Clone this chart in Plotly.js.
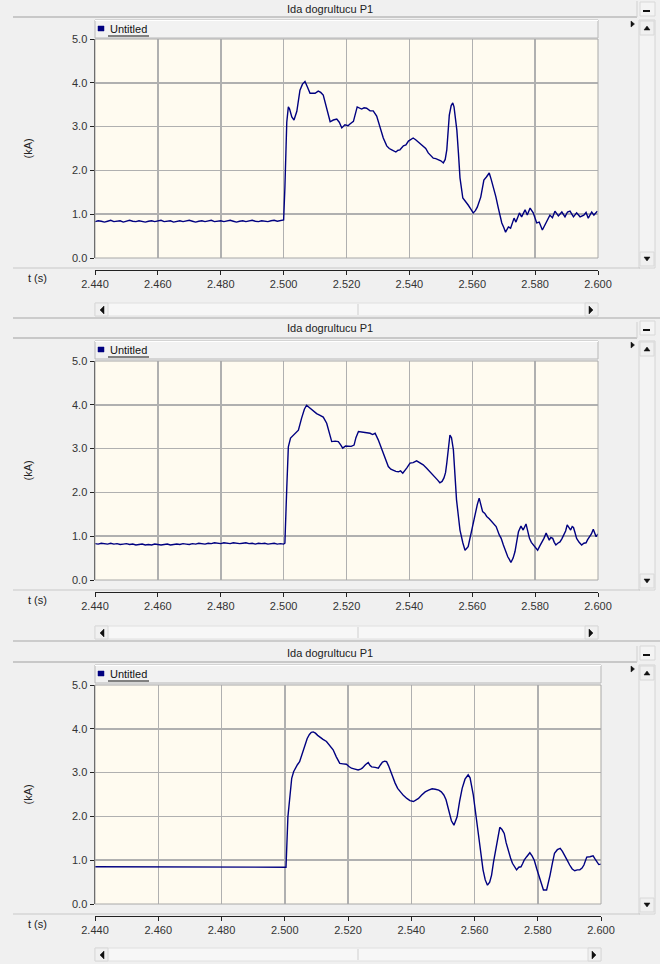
<!DOCTYPE html>
<html><head><meta charset="utf-8">
<script src="https://cdn.plot.ly/plotly-3.0.1.min.js"></script>
<style>html,body{margin:0;padding:0;background:#f0f0f0;}#chart{width:660px;height:964px;}</style>
</head><body><div id="chart"></div>
<script>
// ---------------- DATA ----------------
const panelTitle = "Ida dogrultucu P1";
const seriesName = "Untitled";
const yAxisLabel = "(kA)";
const xAxisLabel = "t (s)";
const xTicks = [2.44, 2.46, 2.48, 2.50, 2.52, 2.54, 2.56, 2.58, 2.60];
const yTicks = [0, 1, 2, 3, 4, 5];

const tPre = [2.440,2.441,2.442,2.443,2.444,2.445,2.446,2.447,2.448,2.449,2.450,2.451,2.452,2.453,2.454,2.455,2.456,2.457,2.458,2.459,2.460,2.461,2.462,2.463,2.464,2.465,2.466,2.467,2.468,2.469,2.470,2.471,2.472,2.473,2.474,2.475,2.476,2.477,2.478,2.479,2.480,2.481,2.482,2.483,2.484,2.485,2.486,2.487,2.488,2.489,2.490,2.491,2.492,2.493,2.494,2.495,2.496,2.497,2.498,2.499,2.500];

const v1Pre = [0.83,0.85,0.84,0.82,0.84,0.86,0.83,0.84,0.85,0.82,0.84,0.86,0.84,0.83,0.85,0.83,0.82,0.84,0.85,0.83,0.84,0.86,0.83,0.84,0.85,0.82,0.84,0.85,0.83,0.84,0.86,0.84,0.82,0.84,0.85,0.83,0.84,0.86,0.83,0.84,0.85,0.83,0.84,0.86,0.84,0.82,0.84,0.85,0.83,0.84,0.86,0.84,0.83,0.85,0.84,0.83,0.85,0.86,0.84,0.86,0.87];
const t1Post = [2.5004,2.5010,2.5015,2.5019,2.5026,2.5033,2.5042,2.5052,2.5060,2.5068,2.5076,2.5084,2.5092,2.5100,2.5110,2.5118,2.5126,2.5137,2.5148,2.5158,2.5169,2.5177,2.5185,2.5195,2.5205,2.5211,2.5222,2.5234,2.5248,2.5256,2.5264,2.5275,2.5285,2.5296,2.5307,2.5317,2.5328,2.5336,2.5344,2.5350,2.5357,2.5364,2.5370,2.5381,2.5389,2.5397,2.5405,2.5412,2.5420,2.5428,2.5436,2.5444,2.5452,2.5460,2.5468,2.5476,2.5484,2.5492,2.5500,2.5508,2.5514,2.5519,2.5527,2.5533,2.5538,2.5542,2.5546,2.5551,2.5556,2.5561,2.5570,2.5578,2.5587,2.5595,2.5603,2.5610,2.5616,2.5627,2.5637,2.5645,2.5654,2.5660,2.5667,2.5675,2.5683,2.5694,2.5700,2.5706,2.5715,2.5722,2.5733,2.5739,2.5750,2.5757,2.5768,2.5775,2.5784,2.5794,2.5805,2.5813,2.5823,2.5835,2.5847,2.5855,2.5863,2.5874,2.5885,2.5895,2.5903,2.5911,2.5922,2.5932,2.5943,2.5955,2.5962,2.5969,2.5980,2.5987,2.5998];
const v1Post = [1.60,3.10,3.45,3.40,3.22,3.15,3.35,3.83,3.97,4.03,3.90,3.76,3.76,3.76,3.81,3.78,3.72,3.40,3.11,3.15,3.17,3.10,2.97,3.04,3.02,3.06,3.12,3.45,3.40,3.43,3.42,3.36,3.36,3.24,3.00,2.74,2.56,2.50,2.47,2.44,2.42,2.46,2.47,2.56,2.58,2.67,2.70,2.74,2.70,2.65,2.62,2.56,2.50,2.40,2.33,2.28,2.27,2.24,2.22,2.17,2.25,2.47,3.26,3.48,3.54,3.45,3.26,2.92,2.40,1.83,1.37,1.28,1.21,1.12,1.03,1.08,1.16,1.39,1.78,1.85,1.94,1.80,1.62,1.40,1.14,0.80,0.70,0.59,0.71,0.68,0.91,0.82,1.03,0.94,1.10,0.98,1.14,1.03,0.80,0.82,0.64,0.82,0.98,0.92,1.07,0.96,1.05,0.94,1.05,1.07,0.94,1.03,0.94,0.98,1.04,0.91,1.05,0.98,1.07];

const v2Pre = [0.83,0.82,0.84,0.83,0.82,0.84,0.82,0.83,0.81,0.82,0.83,0.81,0.82,0.80,0.81,0.82,0.80,0.81,0.80,0.82,0.81,0.80,0.81,0.82,0.80,0.81,0.82,0.81,0.83,0.82,0.81,0.83,0.82,0.84,0.83,0.82,0.84,0.83,0.85,0.84,0.83,0.85,0.84,0.83,0.85,0.84,0.83,0.84,0.85,0.83,0.84,0.82,0.84,0.83,0.84,0.82,0.83,0.84,0.82,0.83,0.82];
const t2Post = [2.5004,2.5010,2.5015,2.5022,2.5030,2.5036,2.5047,2.5057,2.5066,2.5073,2.5084,2.5095,2.5105,2.5116,2.5126,2.5137,2.5145,2.5153,2.5164,2.5174,2.5182,2.5188,2.5197,2.5206,2.5215,2.5224,2.5230,2.5238,2.5246,2.5254,2.5264,2.5275,2.5283,2.5291,2.5301,2.5310,2.5317,2.5325,2.5333,2.5341,2.5349,2.5357,2.5365,2.5372,2.5379,2.5386,2.5392,2.5402,2.5412,2.5423,2.5433,2.5444,2.5455,2.5466,2.5474,2.5482,2.5490,2.5497,2.5504,2.5510,2.5515,2.5519,2.5524,2.5529,2.5534,2.5540,2.5545,2.5550,2.5556,2.5561,2.5570,2.5577,2.5587,2.5598,2.5609,2.5616,2.5622,2.5628,2.5633,2.5640,2.5646,2.5654,2.5662,2.5669,2.5676,2.5686,2.5692,2.5699,2.5706,2.5713,2.5718,2.5723,2.5730,2.5736,2.5742,2.5747,2.5755,2.5762,2.5771,2.5776,2.5782,2.5788,2.5794,2.5801,2.5808,2.5815,2.5821,2.5828,2.5835,2.5840,2.5845,2.5850,2.5856,2.5861,2.5866,2.5872,2.5879,2.5885,2.5892,2.5897,2.5902,2.5908,2.5913,2.5918,2.5922,2.5927,2.5932,2.5940,2.5948,2.5955,2.5962,2.5967,2.5972,2.5979,2.5985,2.5990,2.5994,2.6000];
const v2Post = [0.84,2.10,3.04,3.24,3.30,3.35,3.42,3.69,3.90,3.99,3.92,3.85,3.80,3.76,3.72,3.58,3.38,3.16,3.17,3.16,3.08,3.01,3.06,3.06,3.05,3.08,3.25,3.39,3.38,3.38,3.36,3.35,3.32,3.35,3.20,3.04,2.90,2.75,2.59,2.53,2.50,2.48,2.47,2.49,2.44,2.52,2.56,2.67,2.68,2.72,2.68,2.63,2.55,2.47,2.42,2.36,2.28,2.22,2.25,2.33,2.45,2.67,3.00,3.31,3.25,2.97,2.40,1.83,1.45,1.14,0.85,0.68,0.76,1.14,1.56,1.72,1.87,1.70,1.56,1.52,1.45,1.40,1.33,1.28,1.22,1.03,0.95,0.80,0.65,0.53,0.47,0.40,0.50,0.65,0.90,1.10,1.23,1.14,1.28,1.12,0.95,0.86,0.80,0.74,0.68,0.78,0.85,0.95,1.07,1.00,0.91,0.97,0.95,0.86,0.80,0.84,0.87,0.94,1.03,1.12,1.26,1.20,1.14,1.22,1.20,1.08,0.95,0.86,0.80,0.84,0.85,0.92,0.97,1.05,1.16,1.08,0.99,1.05];

const v3Pre = [0.85,0.85,0.85,0.84,0.84,0.84,0.84,0.84,0.84,0.84,0.84,0.84,0.84,0.84,0.84,0.84,0.84,0.84,0.84,0.84,0.84,0.84,0.84,0.84,0.84,0.84,0.84,0.84,0.84,0.84,0.84,0.84,0.84,0.84,0.84,0.84,0.84,0.84,0.84,0.84,0.84,0.84,0.84,0.84,0.84,0.84,0.84,0.84,0.84,0.84,0.84,0.84,0.84,0.84,0.84,0.84,0.84,0.84,0.84,0.84,0.84];
const t3Post = [2.5004,2.5010,2.5015,2.5022,2.5028,2.5033,2.5040,2.5047,2.5057,2.5064,2.5071,2.5078,2.5084,2.5090,2.5097,2.5104,2.5110,2.5121,2.5132,2.5142,2.5153,2.5163,2.5174,2.5184,2.5195,2.5203,2.5211,2.5222,2.5232,2.5240,2.5245,2.5255,2.5264,2.5270,2.5275,2.5286,2.5296,2.5303,2.5309,2.5316,2.5322,2.5328,2.5333,2.5341,2.5349,2.5357,2.5365,2.5375,2.5386,2.5396,2.5407,2.5415,2.5423,2.5433,2.5444,2.5455,2.5466,2.5476,2.5487,2.5495,2.5503,2.5510,2.5519,2.5527,2.5535,2.5545,2.5553,2.5561,2.5570,2.5580,2.5586,2.5591,2.5596,2.5601,2.5607,2.5614,2.5620,2.5627,2.5634,2.5641,2.5648,2.5654,2.5660,2.5667,2.5674,2.5680,2.5687,2.5694,2.5700,2.5707,2.5714,2.5720,2.5727,2.5733,2.5740,2.5747,2.5752,2.5757,2.5765,2.5775,2.5782,2.5789,2.5797,2.5805,2.5812,2.5818,2.5828,2.5834,2.5839,2.5846,2.5853,2.5862,2.5871,2.5878,2.5885,2.5893,2.5901,2.5909,2.5917,2.5925,2.5933,2.5940,2.5946,2.5955,2.5965,2.5975,2.5981,2.5987,2.5993,2.6000];
const v3Post = [0.84,1.99,2.37,2.87,3.02,3.10,3.18,3.25,3.48,3.65,3.78,3.87,3.92,3.93,3.90,3.85,3.81,3.76,3.71,3.62,3.52,3.36,3.21,3.20,3.19,3.14,3.10,3.08,3.06,3.08,3.10,3.18,3.23,3.16,3.13,3.12,3.10,3.18,3.24,3.26,3.25,3.16,3.06,2.90,2.76,2.64,2.56,2.48,2.41,2.36,2.34,2.37,2.41,2.49,2.56,2.60,2.63,2.62,2.60,2.56,2.49,2.38,2.11,1.90,1.80,1.99,2.35,2.64,2.85,2.95,2.88,2.72,2.50,2.22,1.90,1.54,1.15,0.78,0.55,0.43,0.50,0.66,0.95,1.23,1.50,1.75,1.70,1.61,1.40,1.19,1.05,0.93,0.86,0.78,0.84,0.85,0.92,1.00,1.08,1.17,1.10,1.00,0.80,0.62,0.45,0.32,0.32,0.48,0.66,0.92,1.16,1.24,1.27,1.20,1.12,1.00,0.89,0.80,0.76,0.78,0.78,0.82,0.89,1.07,1.08,1.10,1.03,0.97,0.90,0.91];

// ---------------- LAYOUT ----------------
const W = 660, H = 964;
const X = x => x / W, Y = y => 1 - y / H;
const FONT = "Liberation Sans, Arial, sans-serif";
const LINE = "#000080";

const P = [
  {title:9,   sep:17,  legT:20,  legB:38,  top:39,  bot:258, bsep:268, axis:270, scroll:310, right:598},
  {title:328, sep:338, legT:341, legB:359, top:361, bot:580, bsep:590, axis:592, scroll:633, right:598},
  {title:653, sep:662, legT:665, legB:683, top:685, bot:904, bsep:914, axis:916, scroll:955, right:601}
];
const series = [
  {t: tPre.concat(t1Post), v: v1Pre.concat(v1Post)},
  {t: tPre.concat(t2Post), v: v2Pre.concat(v2Post)},
  {t: tPre.concat(t3Post), v: v3Pre.concat(v3Post)}
];

const data = series.map((s, i) => ({
  type: "scatter", mode: "lines", x: s.t, y: s.v,
  xaxis: i ? "x" + (i + 1) : "x", yaxis: i ? "y" + (i + 1) : "y",
  line: {color: LINE, width: 1.4}, hoverinfo: "skip", name: seriesName
}));

const layout = {
  width: W, height: H, margin: {l:0, r:0, t:0, b:0},
  paper_bgcolor: "#f0f0f0", plot_bgcolor: "#fffbf0",
  showlegend: false, font: {family: FONT, size: 11, color: "#222"},
  shapes: [], annotations: []
};

function rect(x0,y0,x1,y1,fill,lc,lw,layer){
  layout.shapes.push({type:"rect",xref:"paper",yref:"paper",x0:X(x0),x1:X(x1),y0:Y(y1),y1:Y(y0),
    fillcolor:fill||"rgba(0,0,0,0)",line:{color:lc||"rgba(0,0,0,0)",width:lw==null?1:lw},layer:layer||"above"});
}
function seg(x0,y0,x1,y1,c,w){
  layout.shapes.push({type:"line",xref:"paper",yref:"paper",x0:X(x0),x1:X(x1),y0:Y(y0),y1:Y(y1),
    line:{color:c,width:w||1},layer:"above"});
}
function poly(pts,c){
  const d = pts.map((p,k)=>(k?"L":"M")+X(p[0])+","+Y(p[1])).join(" ")+" Z";
  layout.shapes.push({type:"path",xref:"paper",yref:"paper",path:d,fillcolor:c,line:{color:c,width:0.5},layer:"above"});
}
function text(t,x,y,opt){
  layout.annotations.push(Object.assign({text:t,xref:"paper",yref:"paper",x:X(x),y:Y(y),showarrow:false,
    xanchor:"center",yanchor:"middle",font:{family:FONT,size:11,color:"#222"}},opt||{}));
}

P.forEach((p, i) => {
  const sx = i ? String(i + 1) : "";
  layout["xaxis" + sx] = {
    domain: [X(95), X(p.right)], range: [2.44, 2.60], anchor: "free", position: Y(p.axis),
    tickvals: xTicks, tickformat: ".3f", ticks: "outside", ticklen: 4, tickcolor: "#222",
    showline: true, linecolor: "#222", linewidth: 1, showgrid: true, gridcolor: "#b0b0b0", gridwidth: 1.5,
    zeroline: false, fixedrange: true, tickfont: {family: FONT, size: 11, color: "#333"}
  };
  layout["yaxis" + sx] = {
    domain: [Y(p.bot), Y(p.top)], range: [0, 5], anchor: "x" + sx,
    tickvals: yTicks, tickformat: ".1f", ticks: "outside", ticklen: 4, tickcolor: "#222",
    showline: true, linecolor: "#333", linewidth: 1.5, showgrid: true, gridcolor: "#b0b0b0", gridwidth: 1.5,
    zeroline: false, fixedrange: true, tickfont: {family: FONT, size: 11, color: "#333"}
  };

  // plot frame
  rect(95, p.top, p.right, p.bot, null, "#a8a8a8", 1);
  // title bar
  text(panelTitle, 330, p.title);
  seg(13, p.sep, 637, p.sep, "#a0a0a0", 1);
  seg(637, p.sep - 16, 637, p.sep, "#d0d0d0", 1);
  rect(640, p.title - 7, 655, p.title + 7, "#f4f4f4", "#d8d8d8", 1);
  seg(643, p.title + 2, 650, p.title + 2, "#111", 2);
  // legend bar
  rect(95, p.legT, p.right, p.legB, "#f2f2f2", "#b8b8b8", 1);
  seg(95, p.legT + 0.5, p.right, p.legT + 0.5, "#ffffff", 1);
  rect(98, p.legT + 6, 104, p.legT + 11, LINE, LINE, 0.5);
  text(seriesName, 108, p.legT + 9, {xanchor: "left", font: {family: FONT, size: 11, color: "#111"}});
  seg(108, p.legT + 16, 149, p.legT + 16, "#111", 1);
  // small right marker and vertical scrollbar
  poly([[631, p.legT + 1], [634.5, p.legT + 4], [631, p.legT + 7]], "#111");
  rect(639, p.legT, 655, p.bsep, "#f3f3f3", "#d4d4d4", 1);
  rect(640, p.legT + 1, 654, p.legT + 15, "#f0f0f0", "#d8d8d8", 1);
  poly([[644, p.legT + 10], [647, p.legT + 6], [650, p.legT + 10]], "#111");
  rect(640, p.bsep - 16, 654, p.bsep - 2, "#f0f0f0", "#d8d8d8", 1);
  poly([[644, p.bsep - 11], [647, p.bsep - 7], [650, p.bsep - 11]], "#111");
  // bottom separator, axis labels
  seg(13, p.bsep, 640, p.bsep, "#c8c8c8", 1);
  text(xAxisLabel, 37, p.axis + 8);
  text(yAxisLabel, 27, (p.top + p.bot) / 2, {textangle: -90});
  // horizontal scrollbar
  rect(95, p.scroll - 7, p.right, p.scroll + 6, "#f7f7f7", "#e0e0e0", 1);
  seg(358, p.scroll - 6, 358, p.scroll + 5, "#cfcfcf", 1);
  rect(95, p.scroll - 7, 108, p.scroll + 6, "#f0f0f0", "#d8d8d8", 1);
  poly([[104, p.scroll - 4], [100, p.scroll], [104, p.scroll + 4]], "#111");
  rect(p.right - 13, p.scroll - 7, p.right, p.scroll + 6, "#f0f0f0", "#d8d8d8", 1);
  poly([[p.right - 9, p.scroll - 4], [p.right - 5, p.scroll], [p.right - 9, p.scroll + 4]], "#111");
  if (i < 2) seg(13, p.scroll + 8, 660, p.scroll + 8, "#a8a8a8", 1);
});

Plotly.newPlot("chart", data, layout, {displayModeBar: false, staticPlot: true});
</script>
</body></html>
